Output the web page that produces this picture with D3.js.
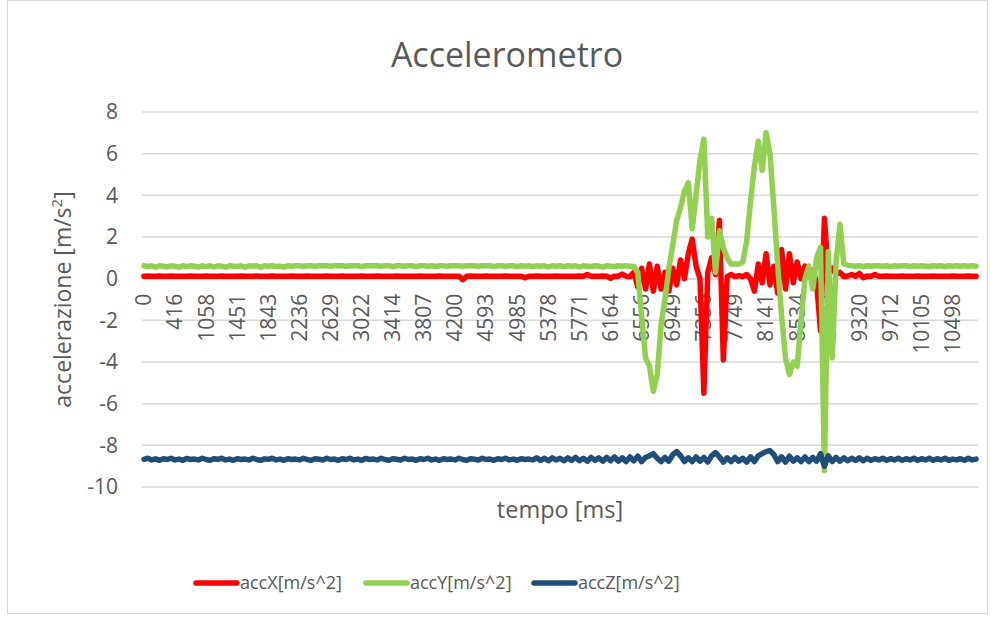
<!DOCTYPE html>
<html>
<head>
<meta charset="utf-8">
<script src="https://cdn.jsdelivr.net/npm/d3@7"></script>
<style>
  html, body { margin: 0; padding: 0; background: #fff; }
  svg { display: block; }
  text { font-family: "Open Sans", "Noto Sans", sans-serif; fill: #595959; }
</style>
</head>
<body>
<svg id="chart" width="995" height="621"></svg>
<script>
// ---- data ----
const tickLabels = ["0","416","1058","1451","1843","2236","2629","3022","3414","3807","4200","4593","4985","5378","5771","6164","6556","6949","7356","7749","8141","8534","8927","9320","9712","10105","10498"];
const yTicks = [-10, -8, -6, -4, -2, 0, 2, 4, 6, 8];
const seriesNames = ["accX[m/s^2]", "accY[m/s^2]", "accZ[m/s^2]"];

const accX = [
 0.12,0.13,0.12,0.12,0.13,0.12,0.12,0.13,0.12,0.12,
 0.12,0.12,0.13,0.12,0.12,0.12,0.13,0.12,0.12,0.12,
 0.13,0.12,0.12,0.12,0.12,0.13,0.12,0.12,0.12,0.13,
 0.12,0.12,0.12,0.13,0.12,0.12,0.12,0.12,0.13,0.12,
 0.12,0.12,0.13,0.12,0.12,0.12,0.12,0.13,0.12,0.12,
 0.12,0.13,0.12,0.12,0.12,0.12,0.13,0.12,0.12,0.12,
 0.13,0.12,0.12,0.12,0.12,0.13,0.12,0.12,0.12,0.12,
 0.12,0.13,0.12,0.12,0.12,0.12,0.13,0.12,0.12,0.12,
 0.12,0.12,-0.05,0.12,0.13,0.12,0.12,0.12,0.13,0.12,
 0.12,0.12,0.12,0.13,0.12,0.12,0.12,0.12,0.04,0.12,
 0.12,0.13,0.12,0.12,0.12,0.12,0.13,0.12,0.12,0.12,
 0.12,0.12,0.13,0.12,0.2,0.12,0.12,0.12,0.13,0.12,
 0.02,0.12,0.12,0.22,0.12,0.1,0.3,-0.4,0.5,-0.5,
 0.7,-0.6,0.6,-0.5,0.3,-0.6,0.5,-0.3,0.9,0.0,
 1.2,1.9,0.6,0.0,-5.5,0.3,1.0,0.2,2.8,-3.9,
 0.1,0.2,0.1,0.15,0.1,0.2,0.0,-0.6,0.7,-0.2,
 1.2,-0.3,0.6,-0.7,1.4,-0.5,1.2,-0.2,0.8,0.0,
 0.6,0.2,0.4,-0.2,-2.5,2.9,0.3,0.5,0.2,0.3,
 0.1,0.13,0.2,0.12,0.25,0.05,0.13,0.12,0.2,0.12,
 0.12,0.13,0.12,0.12,0.12,0.13,0.12,0.12,0.12,0.13,
 0.12,0.12,0.12,0.13,0.12,0.12,0.12,0.12,0.13,0.12,
 0.12,0.12,0.13,0.12,0.12
];

const accY = [
 0.62,0.58,0.62,0.55,0.62,0.6,0.56,0.62,0.6,0.55,
 0.62,0.58,0.62,0.6,0.55,0.62,0.58,0.62,0.56,0.62,
 0.6,0.55,0.62,0.6,0.58,0.62,0.55,0.62,0.6,0.62,
 0.55,0.62,0.6,0.62,0.58,0.6,0.55,0.62,0.6,0.62,
 0.62,0.6,0.62,0.62,0.6,0.62,0.62,0.62,0.6,0.62,
 0.62,0.62,0.6,0.62,0.62,0.62,0.58,0.62,0.62,0.62,
 0.62,0.6,0.62,0.62,0.58,0.62,0.62,0.6,0.62,0.62,
 0.58,0.62,0.62,0.6,0.62,0.58,0.62,0.62,0.6,0.62,
 0.62,0.62,0.6,0.62,0.62,0.62,0.6,0.62,0.62,0.62,
 0.58,0.62,0.62,0.6,0.62,0.62,0.58,0.62,0.6,0.62,
 0.58,0.62,0.6,0.62,0.56,0.62,0.6,0.62,0.58,0.62,
 0.6,0.62,0.56,0.62,0.6,0.58,0.62,0.6,0.56,0.62,
 0.6,0.58,0.62,0.6,0.62,0.6,0.58,0.3,-1.8,-3.8,
 -4.2,-5.4,-4.6,-2.2,-1.0,0.5,1.6,2.8,3.4,4.2,
 4.6,2.4,4.0,5.7,6.7,2.0,2.9,0.3,2.3,1.5,
 1.0,0.7,0.7,0.7,0.8,1.8,3.7,5.4,6.6,5.2,
 7.0,6.0,3.4,0.6,-1.8,-3.8,-4.6,-4.0,-4.2,-2.0,
 0.0,0.6,-0.5,1.0,1.5,-9.2,1.3,-3.8,0.8,2.6,
 0.7,0.65,0.62,0.6,0.62,0.58,0.62,0.6,0.62,0.62,
 0.6,0.62,0.58,0.62,0.6,0.62,0.62,0.58,0.62,0.6,
 0.62,0.6,0.58,0.62,0.6,0.62,0.58,0.62,0.6,0.62,
 0.6,0.62,0.6,0.62,0.6
];

const accZ = [
 -8.67,-8.62,-8.7,-8.65,-8.72,-8.64,-8.68,-8.62,-8.7,-8.66,
 -8.72,-8.63,-8.68,-8.66,-8.7,-8.62,-8.68,-8.72,-8.64,-8.67,
 -8.62,-8.7,-8.66,-8.72,-8.64,-8.68,-8.66,-8.7,-8.62,-8.68,
 -8.72,-8.65,-8.67,-8.62,-8.7,-8.66,-8.72,-8.64,-8.68,-8.66,
 -8.7,-8.62,-8.68,-8.72,-8.64,-8.67,-8.7,-8.62,-8.68,-8.66,
 -8.72,-8.64,-8.68,-8.62,-8.7,-8.66,-8.72,-8.63,-8.68,-8.66,
 -8.7,-8.62,-8.68,-8.72,-8.64,-8.67,-8.7,-8.62,-8.68,-8.66,
 -8.72,-8.64,-8.68,-8.62,-8.7,-8.66,-8.72,-8.64,-8.68,-8.66,
 -8.7,-8.62,-8.68,-8.72,-8.64,-8.67,-8.7,-8.62,-8.68,-8.66,
 -8.72,-8.64,-8.68,-8.62,-8.7,-8.66,-8.72,-8.64,-8.68,-8.66,
 -8.7,-8.6,-8.72,-8.62,-8.74,-8.6,-8.7,-8.62,-8.74,-8.6,
 -8.72,-8.58,-8.74,-8.62,-8.76,-8.58,-8.72,-8.6,-8.76,-8.58,
 -8.74,-8.56,-8.76,-8.6,-8.78,-8.56,-8.74,-8.52,-8.78,-8.58,
 -8.5,-8.4,-8.62,-8.78,-8.58,-8.76,-8.45,-8.3,-8.5,-8.78,
 -8.6,-8.78,-8.56,-8.76,-8.58,-8.8,-8.5,-8.35,-8.55,-8.8,
 -8.6,-8.78,-8.58,-8.76,-8.62,-8.8,-8.55,-8.78,-8.5,-8.4,
 -8.3,-8.25,-8.45,-8.78,-8.55,-8.8,-8.52,-8.76,-8.6,-8.78,
 -8.56,-8.78,-8.58,-8.76,-8.4,-9.0,-8.5,-8.78,-8.58,-8.76,
 -8.6,-8.74,-8.62,-8.72,-8.6,-8.74,-8.62,-8.72,-8.64,-8.7,
 -8.62,-8.72,-8.64,-8.7,-8.62,-8.72,-8.64,-8.7,-8.62,-8.72,
 -8.64,-8.7,-8.62,-8.72,-8.64,-8.7,-8.62,-8.72,-8.66,-8.7,
 -8.64,-8.72,-8.62,-8.7,-8.66
];

const colors = ["#ff0000", "#92d050", "#1f4e79"];
const labelEvery = 8;

// ---- layout ----
const svg = d3.select("#chart");
const plot = { left: 142, right: 978, top: 112, bottom: 487 };

// chart border
svg.append("rect")
  .attr("x", 7.5).attr("y", 0.5).attr("width", 980).attr("height", 613)
  .attr("fill", "#fff").attr("stroke", "#d9d9d9").attr("stroke-width", 1.2);

const categories = d3.range(accX.length);
const x = d3.scaleBand().domain(categories).range([plot.left, plot.right]).padding(0);
const cx = i => x(i) + x.bandwidth() / 2;
const y = d3.scaleLinear().domain([-10, 8]).range([plot.bottom, plot.top]);

// gridlines
svg.append("g").selectAll("line").data(yTicks).join("line")
  .attr("x1", plot.left).attr("x2", plot.right)
  .attr("y1", d => y(d)).attr("y2", d => y(d))
  .attr("stroke", "#d9d9d9").attr("stroke-width", 1.5);

// y axis labels (plain hyphen minus, as in the reference)
const yAxis = d3.axisLeft(y).tickValues(yTicks).tickSize(0).tickPadding(0)
  .tickFormat(d => String(d));
const yG = svg.append("g").attr("transform", `translate(${118},0)`).call(yAxis);
yG.select(".domain").remove();
yG.selectAll("text").attr("font-size", 21).attr("fill", "#595959")
  .attr("font-family", '"Open Sans", sans-serif');

// x axis category labels (rotated, below the zero line)
const tickIdx = tickLabels.map((_, j) => j * labelEvery);
const xAxis = d3.axisBottom(x).tickValues(tickIdx).tickSize(0)
  .tickFormat((d, j) => tickLabels[j]);
const xG = svg.append("g").attr("transform", `translate(0,${y(0)})`).call(xAxis);
xG.select(".domain").attr("stroke", "#d9d9d9").attr("stroke-width", 1.5);
xG.selectAll("text")
  .attr("font-size", 21).attr("fill", "#595959")
  .attr("font-family", '"Open Sans", sans-serif')
  .attr("text-anchor", "end")
  .attr("transform", "rotate(-90)")
  .attr("x", -15).attr("y", 0).attr("dy", "0.35em");

// lines
const line = d3.line().x((d, i) => cx(i)).y(d => y(d));
[accX, accY, accZ].forEach((s, k) => {
  svg.append("path").datum(s)
    .attr("d", line)
    .attr("fill", "none")
    .attr("stroke", colors[k])
    .attr("stroke-width", 5.5)
    .attr("stroke-linejoin", "round")
    .attr("stroke-linecap", "round");
});

// title
svg.append("text").attr("x", 507).attr("y", 67)
  .attr("text-anchor", "middle").attr("font-size", 34)
  .text("Accelerometro");

// axis titles
svg.append("text").attr("x", (plot.left + plot.right) / 2).attr("y", 518)
  .attr("text-anchor", "middle").attr("font-size", 23.5)
  .text("tempo [ms]");

const yt = svg.append("text")
  .attr("transform", `translate(71,${(plot.top + plot.bottom) / 2}) rotate(-90)`)
  .attr("text-anchor", "middle").attr("font-size", 23);
yt.append("tspan").text("accelerazione [m/s");
yt.append("tspan").attr("font-size", 15).attr("dy", -9).text("2");
yt.append("tspan").attr("dy", 9).text("]");

// legend
const legendX = [196, 366, 534];
const lg = svg.append("g");
seriesNames.forEach((name, k) => {
  const g = lg.append("g").attr("transform", `translate(${legendX[k]},583)`);
  g.append("line").attr("x1", 0).attr("x2", 41).attr("y1", 0).attr("y2", 0)
    .attr("stroke", colors[k]).attr("stroke-width", 5.5).attr("stroke-linecap", "round");
  g.append("text").attr("x", 44).attr("y", 0).attr("dy", "0.35em")
    .attr("font-size", 18).text(name);
});
</script>
</body>
</html>
